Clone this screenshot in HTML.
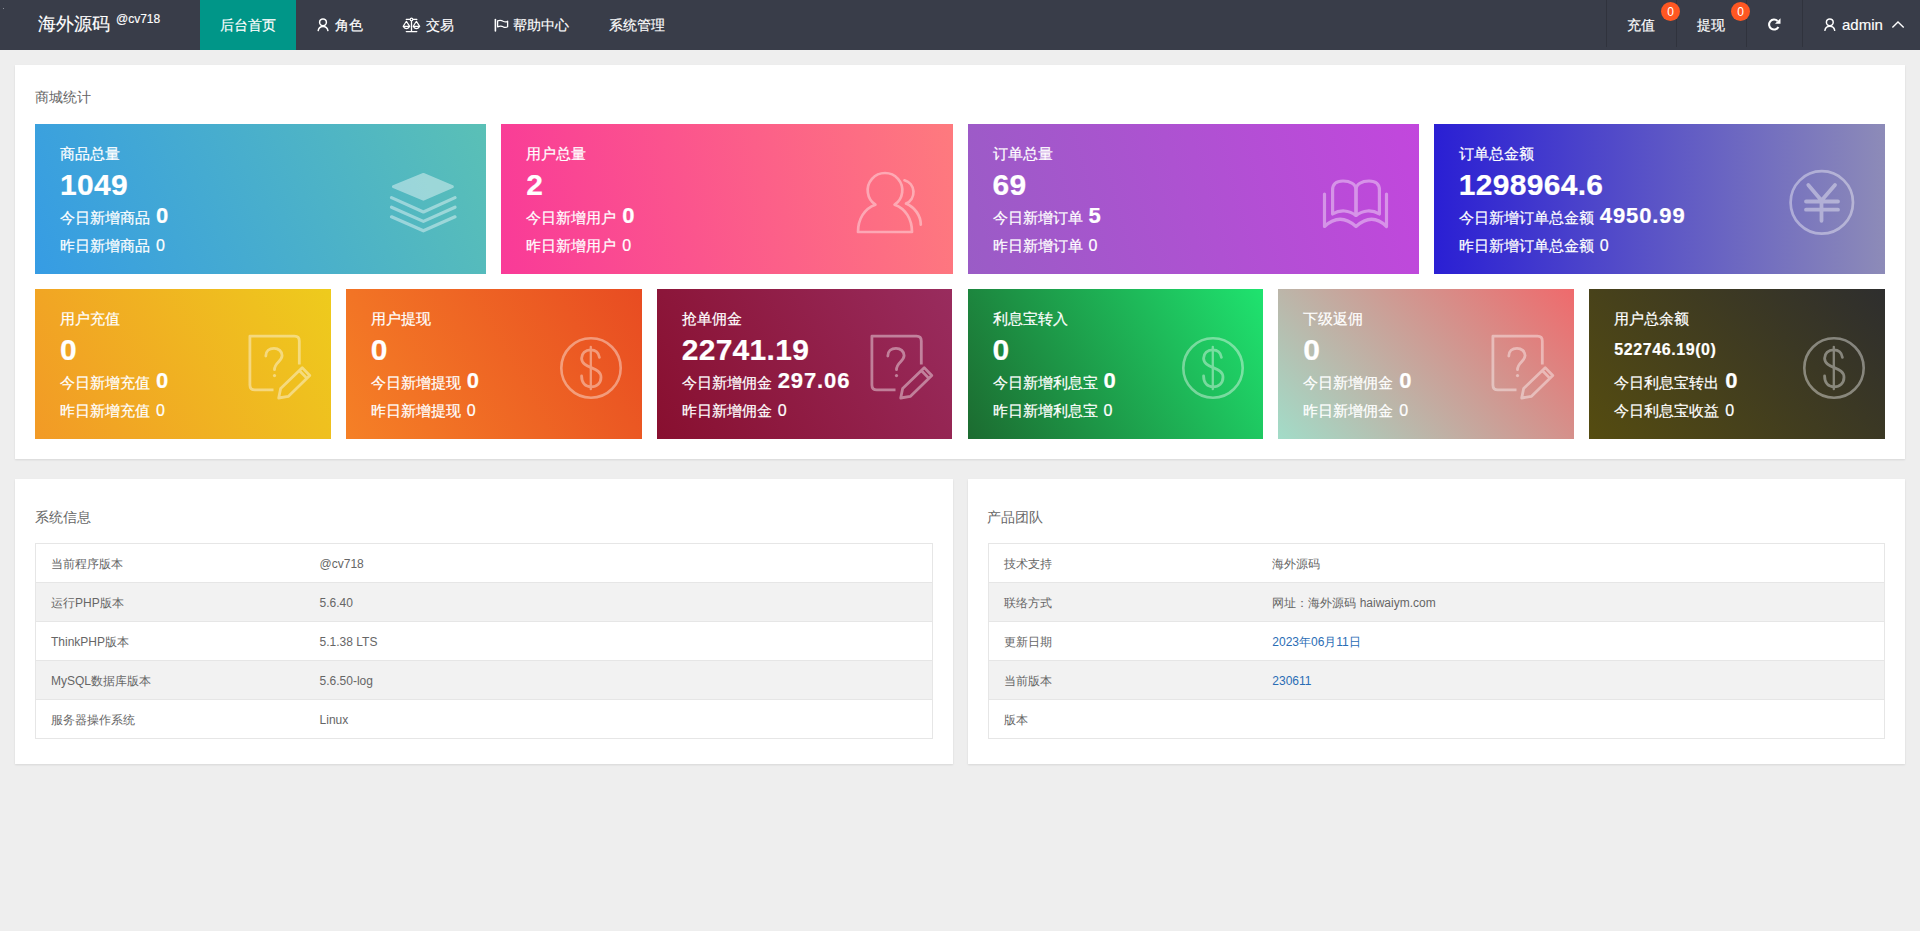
<!DOCTYPE html>
<html><head><meta charset="utf-8">
<style>
*{margin:0;padding:0;box-sizing:border-box}
html,body{width:1920px;height:931px;overflow:hidden;background:#eeeeee;font-family:"Liberation Sans",sans-serif;color:#333}
.hd{position:absolute;left:0;top:0;width:1920px;height:50px;background:#393d49}
.abs{position:absolute;white-space:nowrap}
.logo{left:38px;top:11px;font-size:18px;color:#fff;line-height:26px;-webkit-text-stroke:.15px #fff}
.logo sup{font-size:12px;vertical-align:top;position:relative;top:-5px;margin-left:6px}
.act{left:200px;top:0;width:96px;height:50px;background:#009688}
.nav{top:0;line-height:50px;font-size:14px;color:#fff;-webkit-text-stroke:.15px #fff}
.sep{position:absolute;top:0;width:1px;height:47px;background:#30333d}
.badge{position:absolute;width:19px;height:19px;border-radius:50%;background:#ff5722;color:#fff;font-size:12px;line-height:20px;text-align:center}
.panel{position:absolute;background:#fff;box-shadow:0 1px 2px rgba(0,0,0,.1)}
.ptitle{position:absolute;font-size:14px;color:#666;line-height:20px}
.card{position:absolute;height:150px;color:#fff;overflow:hidden;-webkit-text-stroke:.2px #fff}
.card .t{position:absolute;left:25px;top:19px;font-size:15px;line-height:22px}
.card .n{position:absolute;left:25px;top:44px;font-size:30px;font-weight:bold;line-height:34px;letter-spacing:.3px}
.card .l1{position:absolute;left:25px;top:81px;font-size:15px;line-height:22px}
.card .l1 b{font-size:22px;margin-left:6px;letter-spacing:.9px}
.card .l2{position:absolute;left:25px;top:111px;font-size:15px;line-height:22px}
.card .l2 span{margin-left:6px;font-size:16px}
.card svg{position:absolute}
table{position:absolute;border-collapse:collapse;font-size:12px;color:#666}
td{height:39px;padding-top:2px !important;border-top:1px solid #e6e6e6;border-bottom:1px solid #e6e6e6;padding:0 15px}
table{border:1px solid #e6e6e6}
tr:nth-child(even) td{background:#f2f2f2}
.tbl{position:absolute;border:1px solid #e6e6e6}
</style></head><body>
<div class="hd"></div>
<div style="position:absolute;left:3px;top:8px;width:1px;height:1px;background:#8c909a"></div>
<svg style="position:absolute;left:0;top:0" width="1920" height="50" fill="none" stroke="#fff" stroke-width="1.5" stroke-linecap="round">
<circle cx="323" cy="22.3" r="3.4"/><path d="M318.2 30.6 A4.9 4.9 0 0 1 327.9 30.6"/>
<path d="M406.3 19.4 H416.8 M411.5 20.5 V31.5 M406.3 31.6 H416.8" stroke-width="1.3"/><circle cx="411.5" cy="19.4" r="1.3" stroke-width="1.1" fill="#393d49"/>
<path d="M406.4 21.3 L403.2 26.3 H409.7 Z M403.2 26.3 Q406.4 31 409.7 26.3" stroke-width="1.2" stroke-linejoin="round"/>
<path d="M416.4 21.3 L413.2 26.3 H419.7 Z M413.2 26.3 Q416.4 31 419.7 26.3" stroke-width="1.2" stroke-linejoin="round"/>
<path d="M495.4 19.5 V31" stroke-width="1.6"/>
<path d="M497.6 20.8 Q500.8 19.8 503.2 21.3 Q505.6 22.6 507.6 21.2 V26.8 Q505.6 28 503.2 26.8 Q500.8 25.5 497.6 26.8 Z" stroke-width="1.3" stroke-linejoin="round"/>
<path d="M1777.6 21 A5 5 0 1 0 1778.4 27" stroke-width="2.1" stroke-linecap="butt"/><path d="M1775 23.7 H1780.5 V18.2 Z" fill="#fff" stroke="none"/>
<circle cx="1829.8" cy="22.3" r="3.4"/><path d="M1824.9 30.3 A5 5 0 0 1 1834.7 30.3"/>
<path d="M1892.4 27.6 L1898 22.1 L1903.7 27.6" stroke-width="1.4" stroke-linecap="butt"/>
</svg>
<div class="abs logo">海外源码<sup>@cv718</sup></div>
<div class="abs act"></div>
<div class="abs nav" style="left:220px">后台首页</div>
<div class="abs nav" style="left:335px">角色</div>
<div class="abs nav" style="left:426px">交易</div>
<div class="abs nav" style="left:513px">帮助中心</div>
<div class="abs nav" style="left:609px">系统管理</div>
<div class="sep" style="left:1606px"></div>
<div class="sep" style="left:1676px"></div>
<div class="sep" style="left:1746px"></div>
<div class="sep" style="left:1802px"></div>
<div class="abs nav" style="left:1627px">充值</div>
<div class="badge" style="left:1661px;top:2px">0</div>
<div class="abs nav" style="left:1697px">提现</div>
<div class="badge" style="left:1731px;top:2px">0</div>
<div class="abs nav" style="left:1842px;font-size:15px">admin</div>

<!-- panel 1 -->
<div class="panel" style="left:15px;top:65px;width:1890px;height:394px"></div>
<div class="ptitle" style="left:35px;top:87px">商城统计</div>

<div class="card" style="left:35px;top:124px;width:451.25px;background:linear-gradient(65deg,#369ce4,#5ac0b6)">
 <svg width="451" height="150" style="left:0;top:0" fill="none" stroke="#fff" opacity=".42" stroke-width="3.2" stroke-linecap="round" stroke-linejoin="round"><path d="M358.5 62.7 L388.4 50.5 L417.3 62.7 L388.4 75.2 Z" fill="#fff" stroke-width="3"/><path d="M356.5 73.6 L388.4 88 L420 73.6"/><path d="M356.5 83.2 L388.4 97.4 L420 83.2"/><path d="M356.5 92.8 L388.4 106.8 L420 92.8"/></svg>
 <div class="t">商品总量</div><div class="n">1049</div>
 <div class="l1">今日新增商品<b>0</b></div><div class="l2">昨日新增商品<span>0</span></div>
</div>
<div class="card" style="left:501.25px;top:124px;width:451.25px;background:linear-gradient(80deg,#f93a98,#fe7a7e)">
 <svg width="451" height="150" style="left:0;top:0" fill="none" stroke="#fff" opacity=".4" stroke-width="2.7" stroke-linejoin="round" stroke-linecap="round"><path d="M374.4 80.7 A17.3 17.3 0 1 1 393.6 80.7 C404.5 84.5 411 95 411 108 L357 108 C357 95 363.5 84.5 374.4 80.7 Z"/><path d="M403.5 56.3 A12.4 12.4 0 0 1 405 79.6 C414 83.5 419.6 91.5 419.8 100.6"/></svg>
 <div class="t">用户总量</div><div class="n">2</div>
 <div class="l1">今日新增用户<b>0</b></div><div class="l2">昨日新增用户<span>0</span></div>
</div>
<div class="card" style="left:967.5px;top:124px;width:451.25px;background:linear-gradient(75deg,#9a5cc6,#c247dd)">
 <svg width="451" height="150" style="left:0;top:0" fill="none" stroke="#fff" opacity=".4" stroke-width="3.2" stroke-linejoin="round" stroke-linecap="round"><path d="M356.5 70 V102.5 Q372 88 388 102.5 Q404 88 418.5 102.5 V70"/><path d="M364.6 90 V66 C364.6 60 368.5 57 375 57 C382 57 388 60 388 66 V91.5 C381 86 372 85.5 364.6 90 Z"/><path d="M411.4 90 V66 C411.4 60 407.5 57 401 57 C394 57 388 60 388 66 V91.5 C395 86 404 85.5 411.4 90 Z"/></svg>
 <div class="t">订单总量</div><div class="n">69</div>
 <div class="l1">今日新增订单<b>5</b></div><div class="l2">昨日新增订单<span>0</span></div>
</div>
<div class="card" style="left:1433.75px;top:124px;width:451.25px;background:linear-gradient(to right,#2a1fd4,#8d8bb8)">
 <svg width="451" height="150" style="left:0;top:0" fill="none" stroke="#fff" opacity=".4" stroke-width="2.7" stroke-linecap="round"><circle cx="387.8" cy="78.4" r="31.2"/><path d="M374.3 61 L387.5 76.5 L401 61 M387.5 76.5 V96.8 M372 77.5 H404 M372 85.7 H404" stroke-width="3.8"/></svg>
 <div class="t">订单总金额</div><div class="n">1298964.6</div>
 <div class="l1">今日新增订单总金额<b>4950.99</b></div><div class="l2">昨日新增订单总金额<span>0</span></div>
</div>

<div class="card" style="left:35px;top:289px;width:295.83px;background:linear-gradient(60deg,#f29a26,#eecb1d)">
 <svg width="296" height="150" style="left:0;top:0" fill="none" stroke="#fff" opacity=".42" stroke-width="2.8" stroke-linejoin="round"><path d="M264.3 75.5 V52 Q264.3 47.2 259.5 47.2 H214.9 V96 Q214.9 100.9 219.8 100.9 H238.5"/><path d="M230.8 67 C230.8 62.3 234.3 59.3 239 59.3 C243.6 59.3 247.1 62.5 247.1 66.6 C247.1 72.3 239.5 73.3 239.5 80.7" stroke-linecap="round"/><circle cx="239.5" cy="86.6" r="1.6" fill="#fff" stroke="none"/><path d="M243.7 109 L245.65 99.5 L267.2 78.65 L274.8 86.55 L253.25 107.4 Z M264.3 81.5 L271.9 89.4"/></svg>
 <div class="t">用户充值</div><div class="n">0</div>
 <div class="l1">今日新增充值<b>0</b></div><div class="l2">昨日新增充值<span>0</span></div>
</div>
<div class="card" style="left:345.83px;top:289px;width:295.83px;background:linear-gradient(60deg,#f58026,#e84c22)">
 <svg width="296" height="150" style="left:0;top:0" fill="none" stroke="#fff" opacity=".4" stroke-width="2.6" stroke-linecap="round"><circle cx="245" cy="79" r="29.7"/><path d="M244.8 57.8 V100.2" stroke-width="2.3"/><path d="M253.4 68.4 C252.6 63.4 249 60.9 244.6 60.9 C239.3 60.9 235.6 64.5 235.6 69.3 C235.6 80 255 77.2 255 88.3 C255 94 250.9 97.8 245.2 97.8 C239.5 97.8 235.6 94.2 235.6 87" stroke-width="2.8"/></svg>
 <div class="t">用户提现</div><div class="n">0</div>
 <div class="l1">今日新增提现<b>0</b></div><div class="l2">昨日新增提现<span>0</span></div>
</div>
<div class="card" style="left:656.67px;top:289px;width:295.83px;background:linear-gradient(60deg,#880f2f,#992c5e)">
 <svg width="296" height="150" style="left:0;top:0" fill="none" stroke="#fff" opacity=".42" stroke-width="2.8" stroke-linejoin="round"><path d="M264.3 75.5 V52 Q264.3 47.2 259.5 47.2 H214.9 V96 Q214.9 100.9 219.8 100.9 H238.5"/><path d="M230.8 67 C230.8 62.3 234.3 59.3 239 59.3 C243.6 59.3 247.1 62.5 247.1 66.6 C247.1 72.3 239.5 73.3 239.5 80.7" stroke-linecap="round"/><circle cx="239.5" cy="86.6" r="1.6" fill="#fff" stroke="none"/><path d="M243.7 109 L245.65 99.5 L267.2 78.65 L274.8 86.55 L253.25 107.4 Z M264.3 81.5 L271.9 89.4"/></svg>
 <div class="t">抢单佣金</div><div class="n">22741.19</div>
 <div class="l1">今日新增佣金<b>297.06</b></div><div class="l2">昨日新增佣金<span>0</span></div>
</div>
<div class="card" style="left:967.5px;top:289px;width:295.83px;background:linear-gradient(60deg,#1c6b30,#1fe36f)">
 <svg width="296" height="150" style="left:0;top:0" fill="none" stroke="#fff" opacity=".4" stroke-width="2.6" stroke-linecap="round"><circle cx="245" cy="79" r="29.7"/><path d="M244.8 57.8 V100.2" stroke-width="2.3"/><path d="M253.4 68.4 C252.6 63.4 249 60.9 244.6 60.9 C239.3 60.9 235.6 64.5 235.6 69.3 C235.6 80 255 77.2 255 88.3 C255 94 250.9 97.8 245.2 97.8 C239.5 97.8 235.6 94.2 235.6 87" stroke-width="2.8"/></svg>
 <div class="t">利息宝转入</div><div class="n">0</div>
 <div class="l1">今日新增利息宝<b>0</b></div><div class="l2">昨日新增利息宝<span>0</span></div>
</div>
<div class="card" style="left:1278.33px;top:289px;width:295.83px;background:linear-gradient(45deg,#a2dcc8,#ef6a6c)">
 <svg width="296" height="150" style="left:0;top:0" fill="none" stroke="#fff" opacity=".42" stroke-width="2.8" stroke-linejoin="round"><path d="M264.3 75.5 V52 Q264.3 47.2 259.5 47.2 H214.9 V96 Q214.9 100.9 219.8 100.9 H238.5"/><path d="M230.8 67 C230.8 62.3 234.3 59.3 239 59.3 C243.6 59.3 247.1 62.5 247.1 66.6 C247.1 72.3 239.5 73.3 239.5 80.7" stroke-linecap="round"/><circle cx="239.5" cy="86.6" r="1.6" fill="#fff" stroke="none"/><path d="M243.7 109 L245.65 99.5 L267.2 78.65 L274.8 86.55 L253.25 107.4 Z M264.3 81.5 L271.9 89.4"/></svg>
 <div class="t">下级返佣</div><div class="n">0</div>
 <div class="l1">今日新增佣金<b>0</b></div><div class="l2">昨日新增佣金<span>0</span></div>
</div>
<div class="card" style="left:1589.17px;top:289px;width:295.83px;background:linear-gradient(45deg,#554c10,#2e2e2e)">
 <svg width="296" height="150" style="left:0;top:0" fill="none" stroke="#fff" opacity=".4" stroke-width="2.6" stroke-linecap="round"><circle cx="245" cy="79" r="29.7"/><path d="M244.8 57.8 V100.2" stroke-width="2.3"/><path d="M253.4 68.4 C252.6 63.4 249 60.9 244.6 60.9 C239.3 60.9 235.6 64.5 235.6 69.3 C235.6 80 255 77.2 255 88.3 C255 94 250.9 97.8 245.2 97.8 C239.5 97.8 235.6 94.2 235.6 87" stroke-width="2.8"/></svg>
 <div class="t">用户总余额</div><div class="n" style="font-size:16px;letter-spacing:.6px">522746.19(0)</div>
 <div class="l1">今日利息宝转出<b>0</b></div><div class="l2">今日利息宝收益<span>0</span></div>
</div>

<!-- panel 2 -->
<div class="panel" style="left:15px;top:479px;width:938px;height:285px"></div>
<div class="ptitle" style="left:35px;top:507px">系统信息</div>
<div class="panel" style="left:968px;top:479px;width:937px;height:285px"></div>
<div class="ptitle" style="left:987px;top:507px">产品团队</div>

<table style="left:35px;top:543px;width:898px">
<tr><td style="width:30%">当前程序版本</td><td>@cv718</td></tr>
<tr><td>运行PHP版本</td><td>5.6.40</td></tr>
<tr><td>ThinkPHP版本</td><td>5.1.38 LTS</td></tr>
<tr><td>MySQL数据库版本</td><td>5.6.50-log</td></tr>
<tr><td>服务器操作系统</td><td>Linux</td></tr>
</table>
<table style="left:988px;top:543px;width:897px">
<tr><td style="width:30%">技术支持</td><td>海外源码</td></tr>
<tr><td>联络方式</td><td>网址：海外源码 haiwaiym.com</td></tr>
<tr><td>更新日期</td><td style="color:#2a6db5">2023年06月11日</td></tr>
<tr><td>当前版本</td><td style="color:#2a6db5">230611</td></tr>
<tr><td>版本</td><td></td></tr>
</table>

</body></html>
